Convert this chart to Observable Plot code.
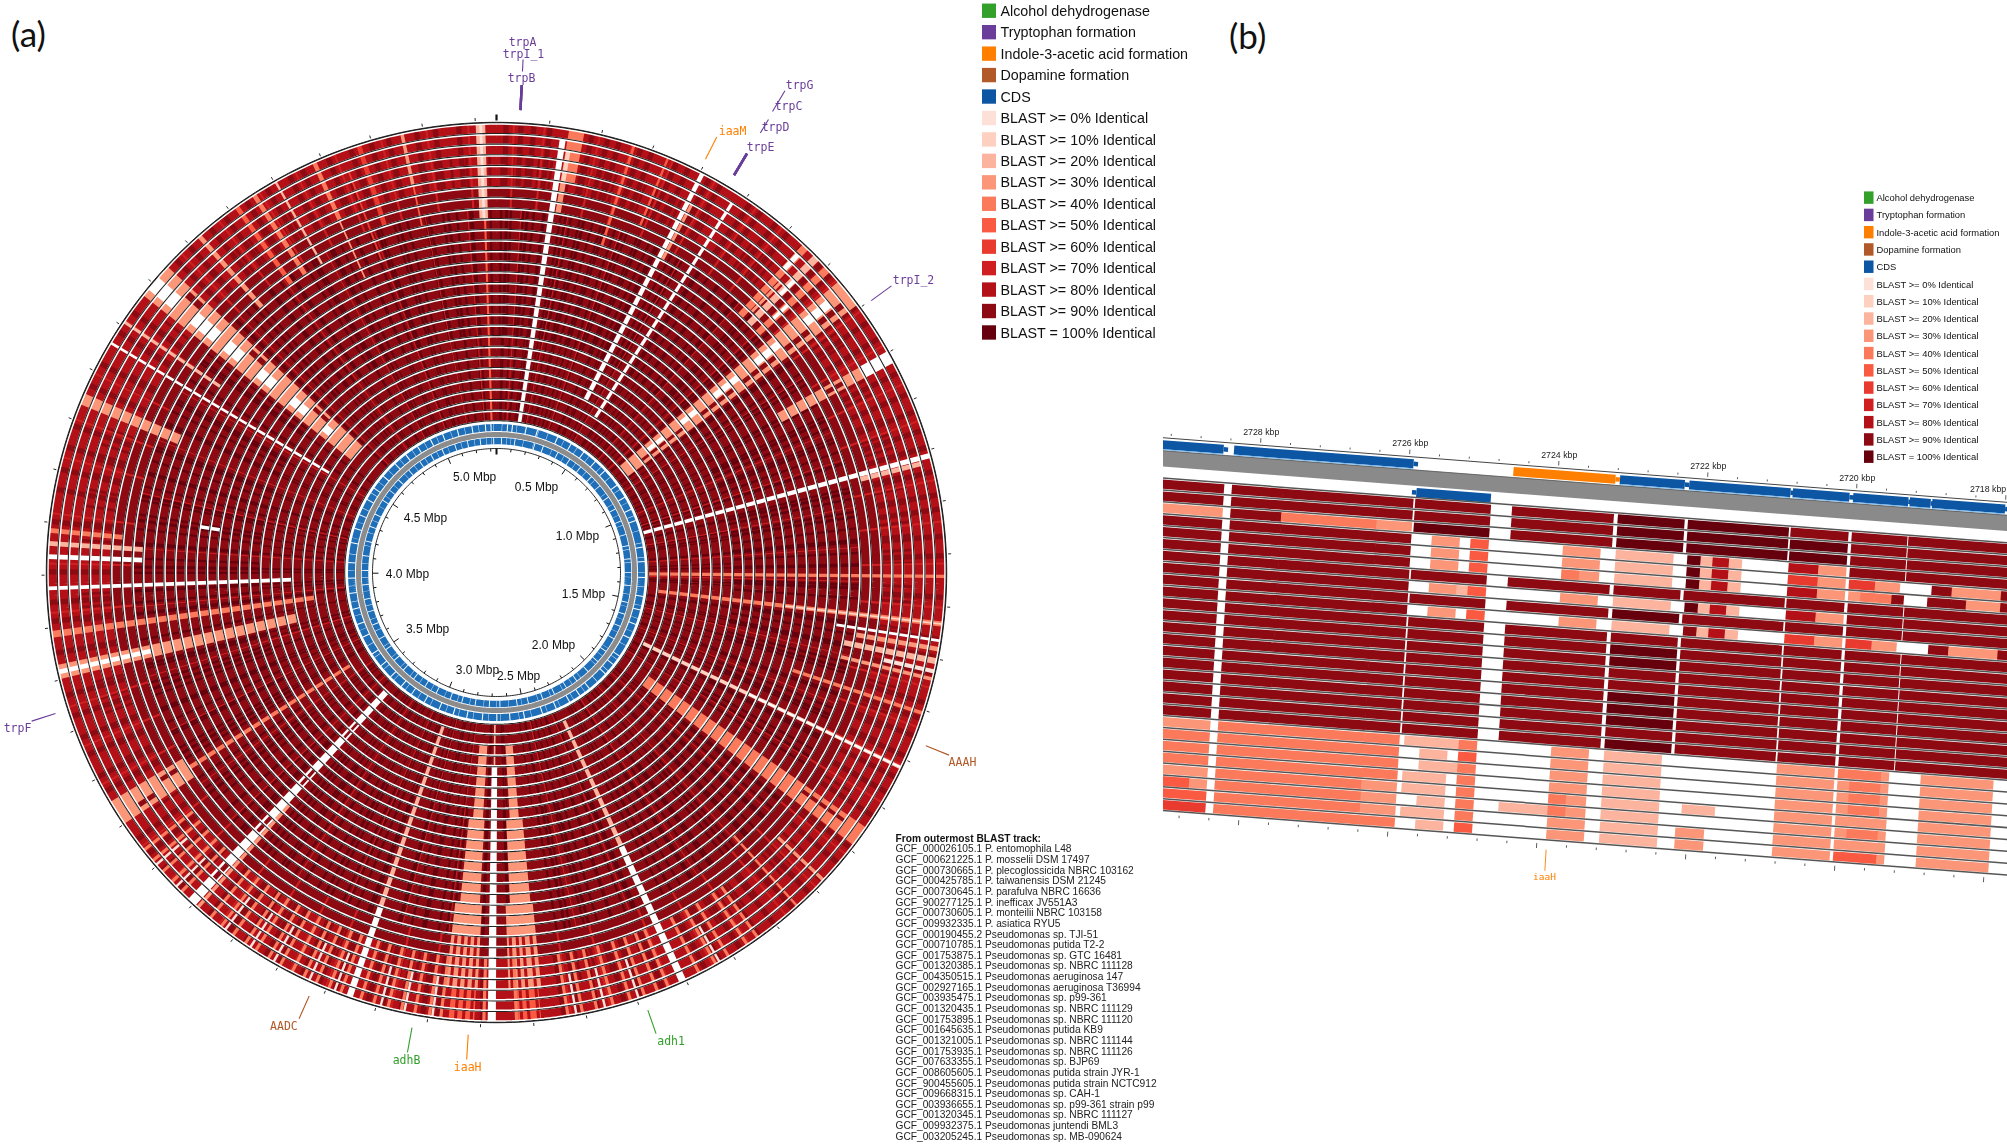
<!doctype html>
<html><head><meta charset="utf-8">
<script src="https://cdn.jsdelivr.net/npm/d3@7"></script>
<script src="https://cdn.jsdelivr.net/npm/@observablehq/plot@0.6"></script>
<style>
html,body{margin:0;background:#fff}
#page{position:relative;width:2007px;height:1146px;overflow:hidden;background:#fff}
#page svg{position:absolute;background:transparent;filter:blur(.4px)}
.panel{position:absolute;font-family:Lato,"Open Sans",sans-serif;font-size:35px;color:#111;line-height:1}
</style></head><body><div id="page"></div>
<script>
// ---------- legend ----------
const legendLabels = ["Alcohol dehydrogenase","Tryptophan formation","Indole-3-acetic acid formation","Dopamine formation","CDS",
 "BLAST >= 0% Identical","BLAST >= 10% Identical","BLAST >= 20% Identical","BLAST >= 30% Identical","BLAST >= 40% Identical","BLAST >= 50% Identical","BLAST >= 60% Identical","BLAST >= 70% Identical","BLAST >= 80% Identical","BLAST >= 90% Identical","BLAST = 100% Identical"];
const legendColors = ["#33a02c","#6a3d9a","#ff7f00","#b15928","#0d56a3","#fde0d8","#fdd0bf","#fcb49e","#fc9678","#fb7a5c","#fb5a42","#e93a2f","#cf1f21","#b31017","#8e0a12","#66000d"];
// ---------- identity classes: digit = BLAST >= n0 %, X = 100 %, W = no hit ----------
const identityClasses = ["W","0","1","2","3","4","5","6","7","8","9","X"];
const identityColors  = ["#ffffff","#fde0d8","#fdd0bf","#fcb49e","#fc9678","#fb7a5c","#fb5a42","#e93a2f","#cf1f21","#b31017","#8e0a12","#66000d"];
// ---------- strain list ----------
const accessions = ["GCF_000026105.1","GCF_000621225.1","GCF_000730665.1","GCF_000425785.1","GCF_000730645.1","GCF_900277125.1","GCF_000730605.1","GCF_009932335.1","GCF_000190455.2","GCF_000710785.1","GCF_001753875.1","GCF_001320385.1","GCF_004350515.1","GCF_002927165.1","GCF_003935475.1","GCF_001320435.1","GCF_001753895.1","GCF_001645635.1","GCF_001321005.1","GCF_001753935.1","GCF_007633355.1","GCF_008605605.1","GCF_900455605.1","GCF_009668315.1","GCF_003936655.1","GCF_001320345.1","GCF_009932375.1","GCF_003205245.1"];
const strains = ["P. entomophila L48","P. mosselii DSM 17497","P. plecoglossicida NBRC 103162","P. taiwanensis DSM 21245","P. parafulva NBRC 16636","P. inefficax JV551A3","P. monteilii NBRC 103158","P. asiatica RYU5","Pseudomonas sp. TJI-51","Pseudomonas putida T2-2","Pseudomonas sp. GTC 16481","Pseudomonas sp. NBRC 111128","Pseudomonas aeruginosa 147","Pseudomonas aeruginosa T36994","Pseudomonas sp. p99-361","Pseudomonas sp. NBRC 111129","Pseudomonas sp. NBRC 111120","Pseudomonas putida KB9","Pseudomonas sp. NBRC 111144","Pseudomonas sp. NBRC 111126","Pseudomonas sp. BJP69","Pseudomonas putida strain JYR-1","Pseudomonas putida strain NCTC912","Pseudomonas sp. CAH-1","Pseudomonas sp. p99-361 strain p99","Pseudomonas sp. NBRC 111127","Pseudomonas juntendi BML3","Pseudomonas sp. MB-090624"];
// ---------- panel (a): genome ----------
const genomeMb = 5.34;
const trackCount = 28;
const trackBase = ["8","8","8","8","8","8","9","9","9","9","9","9","9","9","9","9","9","9","9","9","9","9","9","9","9","9","9","9"];
const mbLabels = ["0.5 Mbp","1.0 Mbp","1.5 Mbp","2.0 Mbp","2.5 Mbp","3.0 Mbp","3.5 Mbp","4.0 Mbp","4.5 Mbp","5.0 Mbp"];
const mbLabelAt = [0.374,0.979,1.546,2.106,2.492,2.833,3.417,3.985,4.558,5.147];
const mbLabelR  = [94,88.6,89.7,92.6,106.3,99.8,89.5,89,89.2,97.5];
// genes
const geneNames = ["trpA","trpI_1","trpB","trpG","trpC","trpD","trpE","iaaM","trpI_2","AAAH","adh1","iaaH","adhB","AADC","trpF"];
const geneCats  = ["Tryptophan formation","Tryptophan formation","Tryptophan formation","Tryptophan formation","Tryptophan formation","Tryptophan formation","Tryptophan formation","Indole-3-acetic acid formation","Tryptophan formation","Dopamine formation","Alcohol dehydrogenase","Indole-3-acetic acid formation","Alcohol dehydrogenase","Dopamine formation","Tryptophan formation"];
const geneMb    = [0.044,0.044,0.044,0.458,0.458,0.458,0.458,0.398,0.8015,1.661,2.387,2.722,2.826,3.024,3.742];
const geneLabelAt = [0.0417,0.0442,0.0430,0.4731,0.4757,0.4760,0.4724,0.4177,0.8158,1.664,2.367,2.7195,2.825,3.042,3.737];
const geneLabelR  = [530.6,518.7,494.6,573.6,549.9,525.2,500.3,500.2,509.1,503.2,500.2,495.8,496.2,501.5,503.8];
// radial leader pieces beyond the first one: [Mb, from r, to r]
const leaderExtras = [[0.044,501.7,513.7],[0.4595,512.6,528.4],[0.4585,537.3,561.5]];
// BLAST features: [start Mb, end Mb, outer track, inner track, class]
const bands = [
[5.300,5.319,0,8,"2"],[5.307,5.313,0,8,"0"],[5.309,5.316,9,27,"5"],
[.122,.136,1,27,"W"],[.138,.168,0,4,"4"],[.138,.150,5,7,"3"],[.139,.148,2,4,"1"],
[5.156,5.163,0,4,"3"],[5.158,5.162,5,8,"5"],[4.980,4.989,0,5,"4"],[4.981,4.985,6,11,"3"],[5.038,5.042,2,10,"6"],
[.262,.268,0,9,"5"],[.331,.336,0,6,"5"],[.399,.411,0,23,"W"],[.411,.418,3,8,"3"],[.478,.487,1,24,"W"],
[.638,.653,0,8,"4"],[.667,.682,0,8,"2"],[.697,.712,0,8,"4"],[.640,.650,1,2,"W"],[.672,.680,3,4,"W"],[.700,.708,5,6,"W"],[.655,.662,4,7,"3"],
[.734,.794,0,26,"3"],[.748,.766,2,4,"W"],[.748,.766,8,10,"W"],[.748,.766,13,15,"W"],[.748,.766,18,19,"W"],[.748,.766,22,23,"W"],
[.770,.782,1,3,"9"],[.770,.782,5,7,"9"],[.770,.782,9,12,"9"],[.770,.782,14,17,"9"],[.770,.782,20,24,"9"],
[.897,.922,0,2,"W"],[.897,.922,3,11,"3"],[.905,.915,5,6,"9"],
[1.105,1.117,0,27,"W"],[1.117,1.127,1,6,"2"],[1.338,1.347,0,27,"4"],[1.427,1.439,0,26,"4"],[1.431,1.435,0,14,"1"],
[1.476,1.486,0,7,"3"],[1.498,1.510,0,8,"2"],[1.520,1.528,0,4,"0"],[1.535,1.543,0,8,"3"],[1.462,1.468,0,9,"W"],[1.602,1.610,0,12,"4"],
[1.712,1.722,0,26,"1"],[1.715,1.719,0,15,"W"],[1.847,1.891,0,24,"4"],[1.858,1.866,2,6,"9"],[1.973,1.980,0,5,"3"],[2.044,2.049,0,8,"4"],
[2.299,2.314,0,13,"W"],[2.299,2.314,14,26,"2"],
[2.578,2.646,3,10,"3"],[2.582,2.636,11,18,"3"],[2.592,2.625,19,25,"3"],[2.585,2.630,0,2,"5"],
[2.670,2.688,0,23,"W"],[2.675,2.683,24,27,"2"],
[2.708,2.775,3,10,"3"],[2.712,2.764,11,18,"3"],[2.716,2.752,19,25,"3"],[2.712,2.765,0,2,"5"],
[2.947,2.960,0,8,"W"],[2.947,2.960,9,26,"2"],
[3.285,3.293,0,12,"3"],[3.293,3.315,0,26,"W"],[3.298,3.308,3,4,"9"],[3.298,3.308,9,10,"9"],[3.298,3.308,15,16,"9"],[3.298,3.308,21,22,"9"],
[3.500,3.550,0,7,"3"],[3.518,3.530,8,25,"4"],[3.510,3.520,2,3,"9"],[3.530,3.540,5,6,"9"],
[3.800,3.830,0,22,"3"],[3.810,3.820,0,8,"W"],[3.880,3.895,0,24,"4"],[3.970,3.980,0,22,"W"],
[4.030,4.040,0,8,"W"],[4.055,4.065,0,8,"2"],[4.080,4.090,0,6,"4"],[4.130,4.140,14,15,"W"],
[4.331,4.354,0,9,"3"],[4.458,4.465,0,23,"W"],[4.505,4.512,0,10,"2"],
[4.569,4.643,0,24,"3"],[4.585,4.615,0,2,"W"],[4.585,4.615,5,7,"W"],[4.585,4.615,9,10,"W"],[4.585,4.615,13,14,"W"],[4.585,4.615,17,18,"W"],[4.585,4.615,21,21,"W"],
[4.620,4.635,3,4,"9"],[4.620,4.635,11,12,"9"],[4.620,4.635,19,20,"9"],
[4.720,4.730,0,8,"3"],[4.810,4.820,0,8,"5"],[4.850,4.860,0,8,"4"],[4.900,4.905,0,8,"2"],[5.070,5.080,0,7,"6"]
];
const darkOuter = [.018,.047,.071,.102,.151,.183,.214,.236,.279,.301,.352,.377,.421,.446,.512,.538,.574,.603,.641,.689,.716,.758,.794,.831,.868,.902,.943,.987,1.023,1.061,1.094,1.142,1.187,1.214,1.266,1.303,1.382,1.463,1.497,1.528,1.586,1.617,1.652,1.694,1.738,1.771,1.823,1.897,1.934,1.978,2.013,2.056,2.102,2.138,2.181,2.226,2.258,2.347,2.391,2.424,2.476,2.512,2.541,2.633,2.697,2.782,2.811,2.853,2.889,2.918,2.984,3.017,3.053,3.102,3.131,3.178,3.214,3.263,3.341,3.386,3.427,3.462,3.571,3.602,3.648,3.683,3.727,3.768,3.851,3.912,3.948,4.006,4.102,4.164,4.203,4.247,4.289,4.372,4.418,4.487,4.533,4.662,4.698,4.751,4.786,4.836,4.882,4.931,4.958,5.012,5.058,5.098,5.132,5.187,5.223,5.268];
const darkMid = [.011,.034,.063,.088,.114,.152,.176,.197,.228,.249,.283,.312,.338,.369,.392,.428,.456,.507,.529,.561,.592,.618,.652,.681,.709,.813,.842,.871,.926,.958,.986,1.014,1.047,1.076,1.136,1.161,1.192,1.231,1.258,1.289,1.316,1.364,1.396,1.452,1.481,1.513,1.549,1.573,1.628,1.661,1.687,1.739,1.768,1.806,1.907,1.936,1.962,1.998,2.027,2.063,2.094,2.127,2.158,2.191,2.218,2.264,2.336,2.362,2.398,2.431,2.463,2.496,2.528,2.642,2.701,2.774,2.806,2.838,2.871,2.902,2.978,3.006,3.041,3.072,3.108,3.142,3.171,3.208,3.237,3.268,3.328,3.361,3.392,3.428,3.463,3.492,3.547,3.576,3.611,3.642,3.678,3.712,3.743,3.778,3.846,3.906,3.934,3.961,4.004,4.038,4.071,4.108,4.142,4.176,4.209,4.238,4.272,4.306,4.368,4.397,4.426,4.482,4.528,4.556,4.661,4.692,4.728,4.763,4.796,4.828,4.867,4.894,4.936,4.963,5.004,5.036,5.064,5.097,5.128,5.181,5.214,5.246,5.278,5.326];
const darkInner = [.024,.073,.112,.164,.207,.258,.301,.347,.386,.446,.502,.558,.613,.662,.721,.806,.857,.913,.968,1.023,1.076,1.146,1.204,1.263,1.318,1.372,1.458,1.506,1.563,1.624,1.678,1.732,1.786,1.912,1.968,2.021,2.078,2.134,2.186,2.243,2.342,2.396,2.452,2.508,2.642,2.702,2.786,2.843,2.898,2.972,3.028,3.086,3.142,3.198,3.252,3.336,3.392,3.448,3.562,3.618,3.672,3.728,3.786,3.908,3.962,4.018,4.074,4.128,4.186,4.242,4.298,4.362,4.418,4.482,4.536,4.658,4.712,4.768,4.824,4.886,4.942,5.002,5.056,5.108,5.172,5.226,5.282];
const redOuter = [.033,.092,.198,.262,.344,.433,.526,.588,.674,.732,.806,.884,.966,1.042,1.158,1.238,1.318,1.402,1.556,1.634,1.712,1.792,1.912,1.996,2.074,2.162,2.242,2.332,2.452,2.528,2.798,2.872,3.002,3.076,3.152,3.238,3.362,3.446,3.586,3.666,3.746,3.928,4.022,4.118,4.226,4.302,4.396,4.512,4.678,4.772,4.866,4.944,5.026,5.118,5.206,5.286];
const redMid = [.058,.168,.296,.452,.623,.702,.854,.998,1.068,1.182,1.276,1.356,1.532,1.648,1.792,1.946,2.052,2.172,2.352,2.482,2.782,2.892,3.032,3.162,3.368,3.478,3.622,3.758,3.924,4.062,4.192,4.322,4.448,4.672,4.806,4.924,5.048,5.172,5.272];
const paleLow = [2.142,2.166,2.208,2.236,2.272,2.336,2.358,2.384,2.412,2.446,2.478,2.506,2.534,2.632,2.694,2.776,2.798,2.826,2.852,2.878,2.906,2.932,2.972,2.996,3.022,3.048,3.072,3.098,3.124,3.152,3.176,3.204,3.232,3.258,3.332,3.358,3.384,3.412,3.438];
const whiteLow = [2.228,2.396,2.462,2.518,2.792,2.846,2.892,2.984,3.036,3.112,3.164,3.222,3.346,3.402];
const darkOverHits = [2.590,2.608,2.622,2.638,2.718,2.733,2.748,2.764];
// CDS rings: positions of the breaks between gene clusters
const cdsOuterGaps = [.064,.092,.172,.238,.361,.447,.533,.618,.694,.802,.884,.962,1.031,1.188,1.272,1.364,1.473,1.552,1.638,1.724,1.842,1.902,1.972,2.096,2.164,2.233,2.318,2.402,2.508,2.592,2.668,2.752,2.842,2.922,3.008,3.102,3.188,3.262,3.344,3.428,3.512,3.622,3.701,3.792,3.884,3.972,4.062,4.178,4.262,4.344,4.442,4.518,4.604,4.702,4.782,4.864,4.948,5.024,5.112,5.198,5.276,5.308];
const cdsInnerGaps = [.032,.118,.246,.302,.402,.488,.572,.664,.742,.832,.918,1.002,1.092,1.164,1.248,1.336,1.418,1.526,1.602,1.684,1.772,1.866,1.948,2.036,2.128,2.206,2.292,2.372,2.466,2.538,2.648,2.716,2.806,2.892,2.968,3.064,3.146,3.232,3.318,3.402,3.488,3.566,3.664,3.752,3.834,3.926,4.018,4.112,4.206,4.302,4.386,4.486,4.562,4.648,4.738,4.826,4.908,4.986,5.072,5.154,5.236,5.322];
// ---------- panel (b): linear close-up ----------
const kbpLabels = [2728,2726,2724,2722,2720];
const kbpLabelEdge = [2718];
// CDS blocks: [from kbp, to kbp, feature]
const cdsUpperLane = [[2729.6,2728.49,"CDS"],[2728.35,2725.94,"CDS"],[2724.6,2723.23,"Indole-3-acetic acid formation"],[2723.17,2722.3,"CDS"],[2722.24,2720.88,"CDS"],[2720.85,2720.09,"CDS"],[2720.04,2719.3,"CDS"],[2719.28,2719.0,"CDS"],[2718.98,2718.0,"CDS"],[2717.97,2717.4,"CDS"]];
const cdsLowerLane = [[2725.88,2724.88,"CDS"]];
// BLAST columns: [from kbp, to kbp, one class per track from the outermost, "." = nothing drawn]
const blastColumns = [
[2729.6,2728.46,"99399 99999 99999 99999 34443 356"],
[2729.6,2728.70,"..... ..... ..... ..... ..... 5.."],
[2728.35,2727.67,"99999 99999 99999 99999 44444 444"],
[2727.67,2726.39,"99499 99999 99999 99999 44444 444"],
[2726.39,2725.92,"99399 99999 99999 99999 44443 334"],
[2725.89,2724.88,"99X.. .9.9. 99999 99999 ..... ..."],
[2725.85,2725.64,"..... ..... ..... ..... 2..22 .2."],
[2725.64,2725.27,"...33 3.3.3 ..... ..... 22222 222"],
[2725.27,2725.12,"..... ..2.. ..... ..... 2.2.. ..."],
[2725.12,2724.88,"...55 5.5.5 ..... ..... 45444 445"],
[2724.59,2723.23,"999.. .9.9. 99999 99999 ..... ..."],
[2724.54,2723.88,"..... ..... ..... ..... ..... 2.."],
[2723.88,2723.38,"...33 3.3.3 ..... ..... 33333 333"],
[2723.88,2723.65,"..... 4.... ..... ..... ....4 4.."],
[2723.17,2722.28,"XXX.. .9.X. 9XX99 XXX9X ..... ..."],
[2723.17,2722.40,"...22 2.2.2 ..... ..... 22222 222"],
[2722.23,2720.88,"XXX.. .9.9. 99999 99999 ..... ..."],
[2722.21,2722.03,"...XX X.X.9 ..... ..... ..... ..."],
[2722.03,2721.87,"...22 2.2.2 ..... ..... ..... ..."],
[2721.87,2721.65,"...88 8.8.8 ..... ..... ..... ..."],
[2721.65,2721.48,"...22 2.2.2 ..... ..... ..... ..."],
[2722.09,2721.65,"..... ..... ..... ..... ....2 ..."],
[2722.16,2721.78,"..... ..... ..... ..... ..... .33"],
[2720.85,2720.08,"9XX.. .9.9. 99999 99999 ..... ..."],
[2720.85,2720.45,"...86 8.8.6 ..... ..... 33333 333"],
[2720.45,2720.08,"...33 3.3.3 ..... ..... 33333 333"],
[2720.03,2719.29,"9999. .999. 99999 99999 ..... ..."],
[2720.03,2719.87,"....6 3...6 ..... ..... 43333 335"],
[2719.87,2719.68,"....6 4...6 ..... ..... 44443 435"],
[2719.68,2719.45,"....3 4...3 ..... ..... 44443 435"],
[2719.45,2719.35,"....3 9...3 ..... ..... 33333 333"],
[2719.35,2719.29,"..... 9.... ..... ..... ..... ..."],
[2719.27,2717.40,"9999. .999. 99999 99999 ..... ..."],
[2718.92,2718.65,"....9 ....9 ..... ..... 33333 333"],
[2718.97,2718.65,"..... 9.... ..... ..... ..... ..."],
[2718.65,2718.45,"....3 9...3 ..... ..... 33333 333"],
[2718.45,2717.95,"....3 3...3 ..... ..... 33333 333"],
[2717.99,2717.40,"....9 9...9 ..... ..... ..... ..."]
];
const closeupGene = ["iaaH"];
const closeupGeneKbp = [2723.87];

// ---------- layout (pixels, not data) ----------
const A = {cx:496, cy:572, outer:449, pitch:10.64, width:1150, height:1146};
const B = {left:1163, top:400, width:844, height:520, x0:97, y0:44.7, kbpPx:74.5, slope:0.0765, shear:0.058,
           firstTrack:41.6, pitch:11.82, bandH:9.3, bottom:372};
const page = document.getElementById("page");
const place = (el,l,t)=>{el.style.left=l+"px";el.style.top=t+"px";page.appendChild(el);return el;};
const identityScale = {type:"ordinal",domain:identityClasses,range:identityColors};

// ---------- panel (a) ----------
const polar = d3.geoTransform({point(mb,r){
  const t = mb/genomeMb*2*Math.PI;
  this.stream.point(A.cx + r*Math.sin(t), A.cy - r*Math.cos(t));
}});
const trackOuterEdge = i => A.outer - A.pitch*i;
function arc(m0,m1,r,props,id){            // ring geometry: vertices along one arc at radius r
  const n = Math.max(1,Math.ceil(Math.abs(m1-m0)/0.012));
  return d3.range(n+1).map(k=>({mb:m0+(m1-m0)*k/n,r,id,...props}));
}
let uid=0;
const bandArc = (m0,m1,o,i,cls)=> arc(m0,m1,(trackOuterEdge(o)+trackOuterEdge(i+1))/2,{cls,w:(i-o+1)*A.pitch},uid++);
const streak = (list,halfWidth,o,i,cls)=> list.flatMap(m=>bandArc(m-halfWidth,m+halfWidth,o,i,cls));

const baseRows = trackBase.flatMap((c,i)=>bandArc(0,genomeMb,i,i,c));
const textureRows = [
  ...streak(darkOuter,.0055,0,7,"9"),
  ...streak(darkMid,.003,3,7,"9"),
  ...streak(redOuter,.0022,0,7,"7"),
  ...streak(darkMid,.0032,8,19,"X"),
  ...streak(darkInner,.0042,8,19,"X"),
  ...streak(darkInner,.0036,20,27,"X"),
  ...streak(darkOuter,.0026,20,27,"X"),
  ...streak(redMid,.0016,8,27,"7")
];
const bandRows = bands.flatMap(([a,b,o,i,c])=>bandArc(a,b,o,i,c));
const overRows = [...streak(darkOverHits,.0032,0,7,"8"),...streak(paleLow,.0032,0,5,"4"),...streak(whiteLow,.0024,0,3,"0")];
const rings = d3.range(trackCount+1).map(trackOuterEdge);
const ringWhite = rings.flatMap((r,i)=>arc(0,genomeMb,r,{},"w"+i));
const ringDark  = rings.flatMap((r,i)=>arc(0,genomeMb,r+0.7,{},"d"+i));
const lineOpts = {x:"mb",y:"r",z:"id",strokeLinecap:"butt",strokeLinejoin:"miter"};
const simpleRing = (r,stroke,w)=>Plot.line(arc(0,genomeMb,r,{},"x"),{...lineOpts,stroke,strokeWidth:w});
const tickMb = d3.range(0,54).map(d=>d/10);
const gapArcs = (list,half,r,w)=>Plot.line(list.flatMap((m,k)=>arc(m-half,m+half,r,{},k)),{...lineOpts,stroke:"white",strokeWidth:w});
const genes = geneNames.map((name,i)=>({name,cat:geneCats[i],mb:geneMb[i],lx:geneLabelAt[i],lr:geneLabelR[i]}));

const plotA = Plot.plot({
  width:A.width,height:A.height,margin:0,projection:polar,
  color:{...identityScale},
  marks:[
    Plot.line(baseRows,{...lineOpts,stroke:"cls",strokeWidth:"w"}),
    Plot.line(textureRows,{...lineOpts,stroke:"cls",strokeWidth:"w"}),
    Plot.line(bandRows,{...lineOpts,stroke:"cls",strokeWidth:"w"}),
    Plot.line(overRows,{...lineOpts,stroke:"cls",strokeWidth:"w"}),
    Plot.line(ringWhite,{...lineOpts,stroke:"white",strokeWidth:2.5}),
    Plot.line(ringDark,{...lineOpts,stroke:"#222",strokeWidth:1.05}),
    simpleRing(A.outer+1.2,"#111",.9),
    simpleRing(145,"#1f6fb8",7), gapArcs(cdsOuterGaps,.003,145,7.5), gapArcs(cdsInnerGaps,.0012,145,7.5),
    simpleRing(138,"#8c8c8c",5),
    simpleRing(131.5,"#1f6fb8",6.5), gapArcs(cdsInnerGaps,.0028,131.5,7), gapArcs(cdsOuterGaps,.0012,131.5,7),
    simpleRing(124,"#111",.9),
    Plot.link(tickMb,{x1:d=>d,x2:d=>d,y1:d=>124,y2:d=>(Math.round(d*10)%5===0?118:121),stroke:"#111",strokeWidth:d=>(d===0?2:1)}),
    Plot.link(tickMb,{x1:d=>d,x2:d=>d,y1:d=>452,y2:d=>(d===0?458:455),stroke:"#111",strokeWidth:d=>(d===0?2.2:.9)}),
    Plot.text(mbLabels,{x:(d,i)=>mbLabelAt[i],y:(d,i)=>mbLabelR[i],text:d=>d,fontFamily:"Liberation Sans",fontSize:12,fill:"#111"}),
    Plot.link(genes,{x1:"mb",x2:"mb",y1:()=>463,y2:()=>488,stroke:d=>legendColors[legendLabels.indexOf(d.cat)],strokeWidth:d=>(d.cat==="Tryptophan formation"&&d.mb<.5?2.4:1.1)}),
    Plot.link(leaderExtras,{x1:d=>d[0],x2:d=>d[0],y1:d=>d[1],y2:d=>d[2],stroke:legendColors[1],strokeWidth:1.1}),
    Plot.text(genes,{x:"lx",y:"lr",text:"name",fill:d=>legendColors[legendLabels.indexOf(d.cat)],fontFamily:"DejaVu Sans Mono",fontSize:11.5})
  ]
});
place(plotA,0,0);

// ---------- panel (b) ----------
const linear = d3.geoTransform({point(k,v){
  const u=(2728-k)*B.kbpPx;
  this.stream.point(B.x0+u-v*B.shear, B.y0+u*B.slope+v);
}});
const trackV = i => B.firstTrack + B.pitch*i;
const blastSegs = blastColumns.flatMap(([a,b,s])=>[...s.replace(/ /g,"")].flatMap((c,i)=>c==="."?[]:[{a,b,i,c}]));
const rowLines = d3.range(trackCount+1).map(i=>trackV(i)-1.4);
const axisTicksB = d3.range(0,33).map(i=>2729.2-i*0.4);
const isMajor = k => Math.abs(k/2-Math.round(k/2))<.01;
const featureColor = n => legendColors[legendLabels.indexOf(n)];
const overlap = .007; // hides hairline seams between neighbouring pieces of one hit
const plotB = Plot.plot({
  width:B.width,height:B.height,margin:0,projection:linear,color:{...identityScale},
  marks:[
    Plot.link([0],{x1:()=>2730,x2:()=>2717,y1:()=>20.7,y2:()=>20.7,stroke:"#8a8a8a",strokeWidth:16}),
    Plot.link([0],{x1:()=>2730,x2:()=>2717,y1:()=>12.9,y2:()=>12.9,stroke:"#555",strokeWidth:.8}),
    Plot.link(cdsUpperLane,{x1:d=>d[0],x2:d=>d[1],y1:()=>6.9,y2:()=>6.9,stroke:d=>featureColor(d[2]),strokeWidth:9}),
    Plot.link(cdsUpperLane,{x1:d=>d[1],x2:d=>d[1]-.06,y1:()=>6.9,y2:()=>6.9,stroke:d=>featureColor(d[2]),strokeWidth:4.5}),
    Plot.link(cdsUpperLane.filter(d=>d[2]==="CDS"),{x1:d=>d[0],x2:d=>d[1],y1:()=>11.8,y2:()=>11.8,stroke:"#6fb6ee",strokeWidth:.9}),
    Plot.link(cdsLowerLane,{x1:d=>d[0],x2:d=>d[1],y1:()=>35.3,y2:()=>35.3,stroke:d=>featureColor(d[2]),strokeWidth:9}),
    Plot.link(cdsLowerLane,{x1:d=>d[0],x2:d=>d[0]+.06,y1:()=>35.3,y2:()=>35.3,stroke:d=>featureColor(d[2]),strokeWidth:4.5}),
    Plot.link(blastSegs,{x1:"a",x2:d=>d.b-overlap,y1:d=>trackV(d.i)+B.bandH/2,y2:d=>trackV(d.i)+B.bandH/2,stroke:"c",strokeWidth:B.bandH}),
    Plot.link(rowLines,{x1:()=>2730,x2:()=>2717,y1:d=>d,y2:d=>d,stroke:"#555",strokeWidth:1.5}),
    Plot.link([0],{x1:()=>2730,x2:()=>2717,y1:()=>0,y2:()=>0,stroke:"#444",strokeWidth:1}),
    Plot.link(axisTicksB,{x1:d=>d,x2:d=>d,y1:()=>-2.5,y2:d=>isMajor(d)?-7:-4.5,stroke:"#333",strokeWidth:.8}),
    Plot.link(axisTicksB,{x1:d=>d,x2:d=>d,y1:()=>B.bottom+3,y2:d=>B.bottom+(isMajor(d)?8:5.5),stroke:"#333",strokeWidth:.8}),
    Plot.text(kbpLabels,{x:d=>d,y:()=>-13,text:d=>d+" kbp",fontFamily:"Liberation Sans",fontSize:8.8,fill:"#222"}),
    Plot.text(kbpLabelEdge,{x:d=>d,y:()=>-13,text:d=>d+" kbp",textAnchor:"end",fontFamily:"Liberation Sans",fontSize:8.8,fill:"#222"}),
    Plot.link(closeupGene,{x1:(d,i)=>closeupGeneKbp[i],x2:(d,i)=>closeupGeneKbp[i],y1:()=>381,y2:()=>402,stroke:legendColors[2],strokeWidth:.9}),
    Plot.text(closeupGene,{x:(d,i)=>closeupGeneKbp[i],y:()=>408,text:d=>d,fill:legendColors[2],fontFamily:"DejaVu Sans Mono",fontSize:9.5})
  ]
});
place(plotB,B.left,B.top);

// ---------- legends ----------
function legend(left,top,swLeft,swRight,textLeft,rowH,pad,fontSize,font){
  const w=textLeft-left+(2007-textLeft<230?2007-textLeft:230), h=Math.ceil(rowH*legendLabels.length);
  return place(Plot.plot({
    width:w,height:h,marginLeft:textLeft-left,marginTop:0,marginBottom:0,marginRight:0,
    x:{type:"band",domain:["swatch"],range:[swLeft-left,swRight-left],axis:null,padding:0,round:false},
    y:{type:"band",domain:legendLabels,range:[0,rowH*legendLabels.length],paddingInner:pad,paddingOuter:pad/2,round:false,axis:null},
    color:{type:"ordinal",domain:legendLabels,range:legendColors},
    marks:[
      Plot.cell(legendLabels,{x:()=>"swatch",y:d=>d,fill:d=>d}),
      Plot.text(legendLabels,{y:d=>d,text:d=>d,frameAnchor:"left",textAnchor:"start",fontFamily:font,fontSize,fill:"#111"})
    ]
  }),left,top);
}
legend(975,0.3,982,996,1000,21.45,.33,14.3,"Liberation Sans");
legend(1860,189.4,1864,1873.5,1876,17.27,.28,9.4,"Liberation Sans");

// ---------- strain list ----------
const strainLines = accessions.map((a,i)=>a+" "+strains[i]);
const header = "From outermost BLAST track:";
place(Plot.plot({
  width:300,height:316,margin:0,marginLeft:0,
  y:{type:"point",domain:[header,...strainLines],range:[4,302],padding:0,round:false,axis:null},
  marks:[
    Plot.text([header],{y:d=>d,text:d=>d,frameAnchor:"left",textAnchor:"start",fontFamily:"Liberation Sans",fontSize:10.2,fontWeight:"bold",fill:"#111"}),
    Plot.text(strainLines,{y:d=>d,text:d=>d,frameAnchor:"left",textAnchor:"start",fontFamily:"Liberation Sans",fontSize:10.2,fill:"#222"})
  ]
}),895,834);

// ---------- panel letters ----------
for (const [t,l,tp] of [["(a)",11,16],["(b)",1229,18]]) {
  const d=document.createElement("div");d.className="panel";d.textContent=t;d.style.left=l+"px";d.style.top=tp+"px";page.appendChild(d);
}
</script></body></html>
